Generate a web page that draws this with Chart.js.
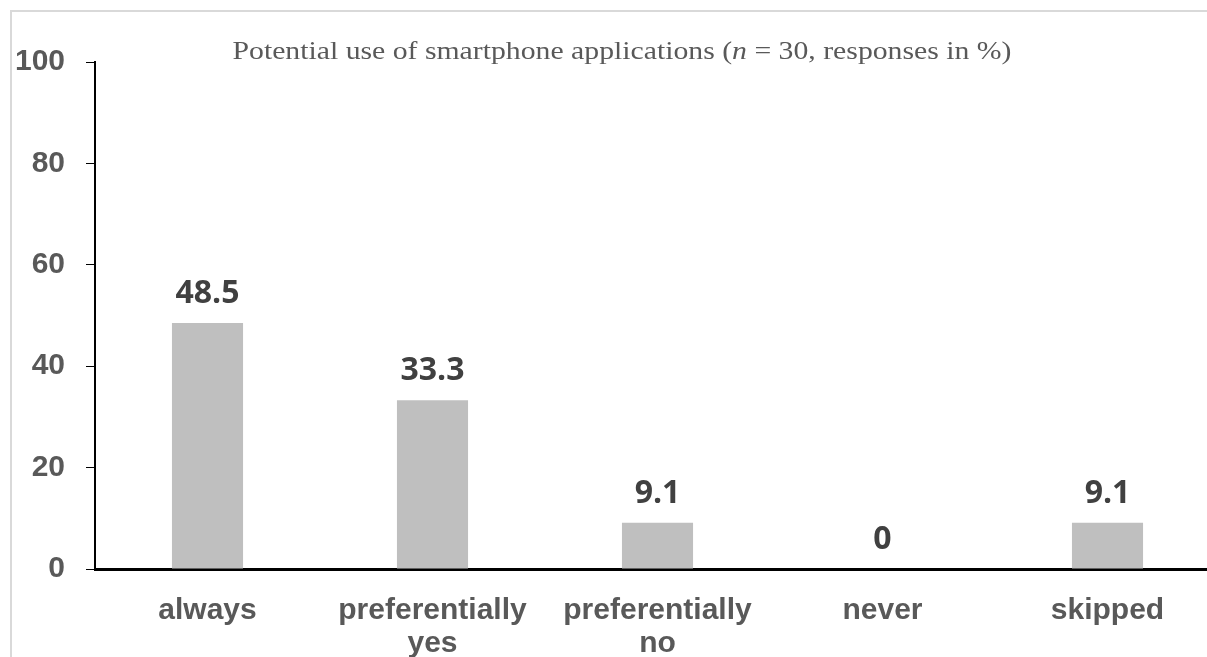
<!DOCTYPE html>
<html lang="en">
<head>
  <meta charset="utf-8">
  <title>Potential use of smartphone applications</title>
  <script src="https://cdn.jsdelivr.net/npm/chart.js@4.4.1/dist/chart.umd.min.js"></script>
  <style>
    html, body { margin: 0; padding: 0; background: #fff; overflow: hidden; }
    #wrap { position: absolute; left: 0; top: 0; width: 1230px; height: 657px; }
    #frame { position: absolute; left: 10px; top: 10px; width: 1300px; height: 700px;
             border-top: 2px solid #d9d9d9; border-left: 2px solid #d9d9d9; }
  </style>
</head>
<body>
  <div id="frame"></div>
  <div id="wrap"><canvas id="chart"></canvas></div>
  <script>
    // Data
    const categories = [['always'], ['preferentially', 'yes'], ['preferentially', 'no'], ['never'], ['skipped']];
    const responses = [48.5, 33.3, 9.1, 0, 9.1];
    const yTicks = [0, 20, 40, 60, 80, 100];
    const titleParts = [
      { text: 'Potential use of smartphone applications (', italic: false },
      { text: 'n', italic: true },
      { text: ' = 30, responses in %)', italic: false }
    ];

    // Title with italic n (stretched a bit to the width of the original serif face)
    const titlePlugin = {
      id: 'mixedTitle',
      afterDraw(chart) {
        const ctx = chart.ctx;
        const size = 26;
        const fam = '"Liberation Serif", "DejaVu Serif", serif';
        const targetW = 779;
        ctx.save();
        let total = 0;
        titleParts.forEach(p => {
          ctx.font = (p.italic ? 'italic ' : '') + size + 'px ' + fam;
          p.w = ctx.measureText(p.text).width;
          total += p.w;
        });
        const sx = targetW / total;
        ctx.translate(622 - targetW / 2, 59);
        ctx.scale(sx, 1);
        let x = 0;
        ctx.fillStyle = '#595959';
        ctx.textBaseline = 'alphabetic';
        ctx.textAlign = 'left';
        titleParts.forEach(p => {
          ctx.font = (p.italic ? 'italic ' : '') + size + 'px ' + fam;
          ctx.fillText(p.text, x, 0);
          x += p.w;
        });
        ctx.restore();
      }
    };

    // Value labels above bars
    const valueLabels = {
      id: 'valueLabels',
      afterDatasetsDraw(chart) {
        const ctx = chart.ctx;
        const meta = chart.getDatasetMeta(0);
        ctx.save();
        ctx.font = 'bold 32px "Open Sans", sans-serif';
        ctx.fillStyle = '#404040';
        ctx.textAlign = 'center';
        ctx.textBaseline = 'alphabetic';
        meta.data.forEach((bar, i) => {
          ctx.fillText(String(responses[i]), bar.x, bar.y - 20);
        });
        ctx.restore();
      }
    };

    const ctx = document.getElementById('chart').getContext('2d');
    new Chart(ctx, {
      type: 'bar',
      data: {
        labels: categories,
        datasets: [{
          data: responses,
          backgroundColor: '#bfbfbf',
          barPercentage: 0.316,
          categoryPercentage: 1.0
        }]
      },
      options: {
        responsive: true,
        maintainAspectRatio: false,
        animation: false,
        layout: { padding: { top: 62, right: 10, left: 0, bottom: 0 } },
        plugins: {
          legend: { display: false },
          tooltip: { enabled: false }
        },
        scales: {
          x: {
            grid: { display: false, drawTicks: false },
            border: { color: '#000', width: 3 },
            ticks: {
              color: '#595959',
              padding: 25,
              maxRotation: 0,
              autoSkip: false,
              font: { family: '"Liberation Sans", Arial, sans-serif', size: 30, weight: 'bold', lineHeight: 1.1 }
            },
            afterFit(scale) { scale.height = 88; }
          },
          y: {
            min: 0,
            max: 100,
            afterBuildTicks(scale) { scale.ticks = yTicks.map(v => ({ value: v })); },
            grid: { drawOnChartArea: false, drawTicks: true, tickLength: 9, color: '#000', lineWidth: 1 },
            border: { color: '#000', width: 2 },
            ticks: {
              color: '#595959',
              padding: 21,
              font: { family: '"Liberation Sans", Arial, sans-serif', size: 30, weight: 'bold' }
            },
            afterFit(scale) { scale.width = 95; }
          }
        }
      },
      plugins: [titlePlugin, valueLabels]
    });
  </script>
</body>
</html>
